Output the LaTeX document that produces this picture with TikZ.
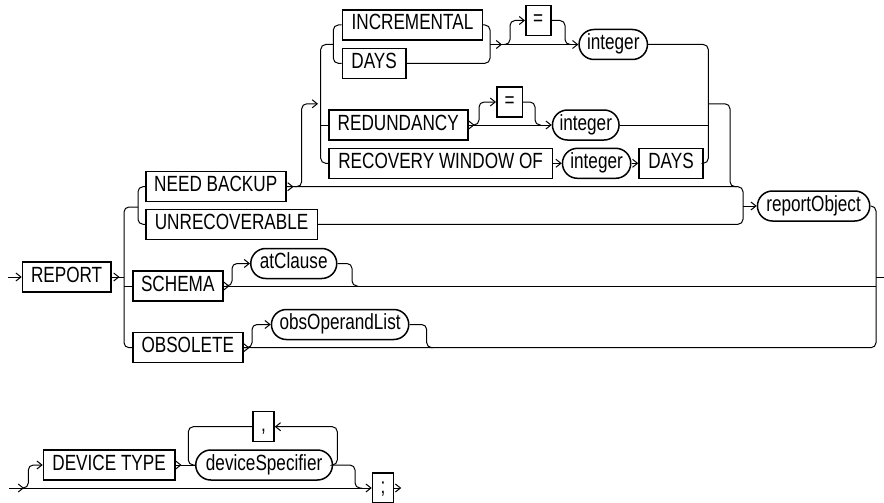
\documentclass[tikz,border=0pt]{standalone}
\usepackage{fontspec}
\setmainfont{Liberation Sans}[FakeStretch=0.78]
\usetikzlibrary{arrows.meta}
\begin{document}
\begin{tikzpicture}[x=1pt,y=-1pt,
  kw/.style={draw, line width=1.5pt, minimum height=30pt, text height=15pt, text depth=5pt, inner sep=0pt, anchor=west, font=\fontsize{22}{26}\selectfont},
  nt/.style={kw, rounded corners=15pt},
  ln/.style={line width=1pt, rounded corners=5pt},
  tip/.style={-{Straight Barb[length=5pt,width=8pt]}},
]
\useasboundingbox (0,0) rectangle (884,503);
% nodes
\node[kw, minimum width=88.3pt] (report) at (21.7,277) {REPORT};
\node[kw, minimum width=140pt] (needbackup) at (145,186.7) {NEED BACKUP};
\node[kw, minimum width=171.7pt] (unrecov) at (145,224.3) {UNRECOVERABLE};
\node[kw, minimum width=90pt] (schema) at (132,286) {SCHEMA};
\node[kw, minimum width=110pt] (obsolete) at (132,347.7) {OBSOLETE};
\node[nt, minimum width=86pt] (atclause) at (250,263.5) {atClause};
\node[nt, minimum width=137.3pt] (obsop) at (270.7,324.5) {obsOperandList};
\node[kw, minimum width=140pt] (incremental) at (341.7,25) {INCREMENTAL};
\node[kw, minimum width=63.3pt] (days1) at (341.7,63.3) {DAYS};
\node[kw, minimum width=25pt] (eq1) at (525,20.5) {=};
\node[nt, minimum width=68.4pt] (int1) at (578.3,44.5) {integer};
\node[kw, minimum width=139pt] (redundancy) at (328,125) {REDUNDANCY};
\node[kw, minimum width=25.7pt] (eq2) at (496,102) {=};
\node[nt, minimum width=66.6pt] (int2) at (551.7,125) {integer};
\node[kw, minimum width=223.7pt] (recovery) at (328,163.3) {RECOVERY WINDOW OF};
\node[nt, minimum width=68.3pt] (int3) at (561.7,163.3) {integer};
\node[kw, minimum width=64pt] (days2) at (638.3,163.3) {DAYS};
\node[nt, minimum width=112.3pt] (reportobj) at (756.7,206) {reportObject};
\node[kw, minimum width=131.3pt] (devtype) at (42.7,465) {DEVICE TYPE};
\node[nt, minimum width=136.7pt] (devspec) at (195,465) {deviceSpecifier};
\node[kw, minimum width=21pt] (comma) at (252.3,426.7) {,};
\node[kw, minimum width=21pt] (semi) at (371.7,488) {;};
\coordinate (start) at (8,277);
\coordinate (finish) at (884,277);
\coordinate (start2) at (9,488);

% ---- main diagram
\draw[ln,tip] (start) -- (report.west);
\draw[ln] (report.east) -- (124,277);
\draw[ln,tip] (report.east) -- ++(8,0);
\draw[ln] (138,207) -- (124,207) -- (124,347.7) -- (obsolete.west);
\draw[ln] (124,286) -- (schema.west);
% need backup / unrecoverable choice
\draw[ln] (needbackup.west) -- (138,186.7) -- (138,224.3) -- (unrecov.west);
\draw[ln] (needbackup.east) -- (743,186.7) -- (743,224.3) -- (unrecov.east);
\draw[ln,tip] (needbackup.east) -- ++(7,0);
\draw[ln,tip] (743,206) -- (reportobj.west);
% optional sub-choice after NEED BACKUP
\draw[ln,tip] (295,186.7) -- (301.7,186.7) -- (301.7,103.8) -- (318,103.8);
\draw[ln] (333.3,44.5) -- (320.7,44.5) -- (320.7,163.3) -- (recovery.west);
\draw[ln] (320.7,125) -- (redundancy.west);
\draw[ln] (incremental.west) -- (333.3,25) -- (333.3,63.3) -- (days1.west);
\draw[ln] (incremental.east) -- (490,25) -- (490,63.3) -- (days1.east);
\draw[ln,tip] (490,44.5) -- (int1.west);
\draw[ln,tip] (490,44.5) -- (502,44.5);
\draw[ln,tip] (504,44.5) -- (510,44.5) -- (510,20.5) -- (eq1.west);
\draw[ln] (eq1.east) -- (565,20.5) -- (565,44.5) -- (571,44.5);
\draw[ln] (int1.east) -- (708.3,44.5) -- (708.3,163.3) -- (days2.east);
\draw[ln] (int2.east) -- (708.3,125);
\draw[ln] (708.3,103.8) -- (730,103.8) -- (730,186.7) -- (737,186.7);
% redundancy
\draw[ln,tip] (redundancy.east) -- (int2.west);
\draw[ln,tip] (redundancy.east) -- ++(6,0);
\draw[ln,tip] (473,125) -- (479,125) -- (479,102) -- (eq2.west);
\draw[ln] (eq2.east) -- (535,102) -- (535,125) -- (541,125);
% recovery window
\draw[ln,tip] (recovery.east) -- (int3.west);
\draw[ln,tip] (int3.east) -- (days2.west);
% right side
\draw[ln] (reportobj.east) -- (876,206) -- (876,347.7) -- (obsolete.east);
\draw[ln] (876,277) -- (finish);
% schema
\draw[ln] (schema.east) -- (876,286);
\draw[ln,tip] (schema.east) -- ++(6,0);
\draw[ln,tip] (228,286) -- (232,286) -- (232,263.5) -- (atclause.west);
\draw[ln] (atclause.east) -- (352,263.5) -- (352,286) -- (358,286);
% obsolete
\draw[ln,tip] (obsolete.east) -- ++(6,0);
\draw[ln,tip] (248,347.7) -- (252,347.7) -- (252,324.5) -- (obsop.west);
\draw[ln] (obsop.east) -- (426.7,324.5) -- (426.7,347.7) -- (433,347.7);

% ---- second diagram
\draw[ln,tip] (start2) -- (semi.west);
\draw[ln,tip] (start2) -- (24,488);
\draw[ln,tip] (24,488) -- (28.3,488) -- (28.3,465) -- (devtype.west);
\draw[ln] (devtype.east) -- (devspec.west);
\draw[ln,tip] (devtype.east) -- ++(6,0);
\draw[ln] (comma.west) -- (188.3,426.7) -- (188.3,465) -- (devspec.west);
\draw[ln,tip] (devspec.east) -- (337.3,465) -- (337.3,426.7) -- (comma.east);
\draw[ln] (devspec.east) -- (355,465) -- (355,488) -- (362,488);
\draw[ln,tip] (semi.east) -- ++(7,0);
\end{tikzpicture}
\end{document}
